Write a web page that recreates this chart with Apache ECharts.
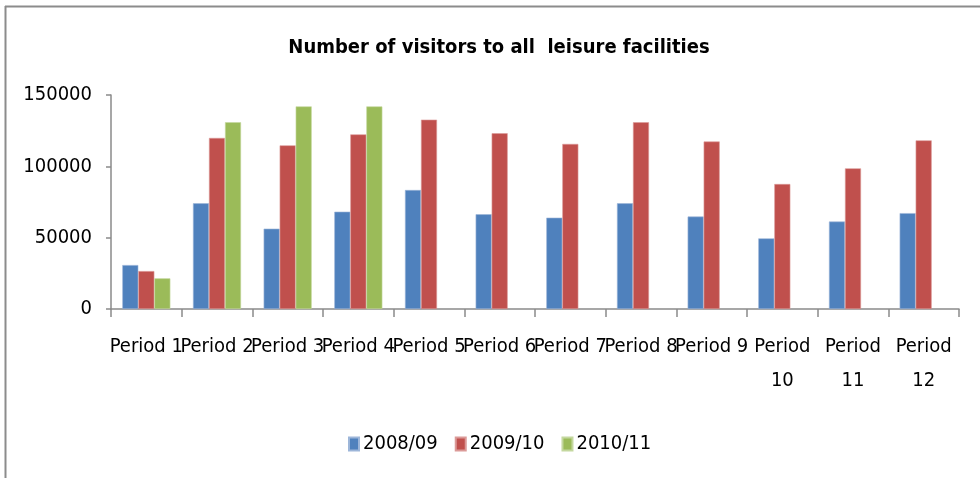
<!DOCTYPE html>
<html>
<head>
<meta charset="utf-8">
<script src="https://cdn.jsdelivr.net/npm/echarts@6/dist/echarts.min.js"></script>
<style>
html,body{margin:0;padding:0;background:#fff;}
#chart{width:980px;height:478px;}
</style>
</head>
<body>
<div id="chart"></div>
<script>
var titleText = 'Number of visitors to all  leisure facilities';
var categories = ['Period 1','Period 2','Period 3','Period 4','Period 5','Period 6','Period 7','Period 8','Period 9','Period 10','Period 11','Period 12'];
var seriesNames = ['2008/09','2009/10','2010/11'];
var values0809 = [30800, 74100, 56300, 68200, 83400, 66400, 64000, 74100, 64800, 49500, 61300, 67200];
var values0910 = [26600, 119900, 114700, 122400, 132700, 123200, 115700, 130900, 117400, 87600, 98600, 118200];
var values1011 = [21500, 130900, 142000, 142000, null, null, null, null, null, null, null, null];
var yTicks = {min: 0, max: 150000, interval: 50000};

var FONT = '"DejaVu Sans Condensed", "Liberation Sans", sans-serif';
var colors = ['#4F81BD', '#C0504D', '#9BBB59'];
var borders = ['#9DB6D9', '#DB9A98', '#C4D89F'];

var chart = echarts.init(document.getElementById('chart'), null, {renderer: 'canvas'});
var seriesData = [values0809, values0910, values1011];
var series = seriesData.map(function (d, i) {
  return {
    name: seriesNames[i],
    type: 'bar',
    data: d,
    barGap: '0%',
    barCategoryGap: '32%',
    itemStyle: {color: colors[i], borderColor: borders[i], borderWidth: 0.6},
    emphasis: {disabled: true}
  };
});

chart.setOption({
  animation: false,
  backgroundColor: '#ffffff',
  color: colors,
  title: {
    text: titleText,
    left: 494,
    textAlign: 'center',
    top: 33,
    textStyle: {fontFamily: FONT, fontSize: 20, fontWeight: 'bold', color: '#000'}
  },
  grid: {left: 111, right: 21, top: 95, bottom: 169, containLabel: false},
  legend: {
    data: seriesNames,
    left: 343,
    top: 429,
    itemWidth: 10,
    itemHeight: 13,
    itemGap: 17,
    icon: 'rect',
    textStyle: {fontFamily: FONT, fontSize: 20, color: '#000', padding: [0, 0, 0, -1]}
  },
  xAxis: {
    type: 'category',
    data: categories,
    axisLine: {lineStyle: {color: '#8A8A8A', width: 1.5}},
    axisTick: {show: true, length: 8, alignWithLabel: false, lineStyle: {color: '#8A8A8A', width: 1.5}},
    axisLabel: {
      interval: 0,
      margin: 21,
      fontFamily: FONT,
      fontSize: 20,
      lineHeight: 34,
      color: '#000',
      formatter: function (v) { return v.length > 8 ? v.replace(' ', '\n') : v; }
    },
    splitLine: {show: false}
  },
  yAxis: {
    type: 'value',
    min: yTicks.min,
    max: yTicks.max,
    interval: yTicks.interval,
    axisLine: {show: true, lineStyle: {color: '#8A8A8A', width: 1.5}},
    axisTick: {show: true, length: 5, lineStyle: {color: '#8A8A8A', width: 1.5}},
    axisLabel: {margin: 19, fontFamily: FONT, fontSize: 20, color: '#000', formatter: function (v) { return String(v); }},
    splitLine: {show: false}
  },
  graphic: [
    {type: 'line', silent: true, shape: {x1: 5, y1: 6.5, x2: 980, y2: 6.5}, style: {stroke: '#8C8C8C', lineWidth: 2}},
    {type: 'line', silent: true, shape: {x1: 5.5, y1: 6, x2: 5.5, y2: 478}, style: {stroke: '#8C8C8C', lineWidth: 2}}
  ],
  series: series
});
</script>
</body>
</html>
